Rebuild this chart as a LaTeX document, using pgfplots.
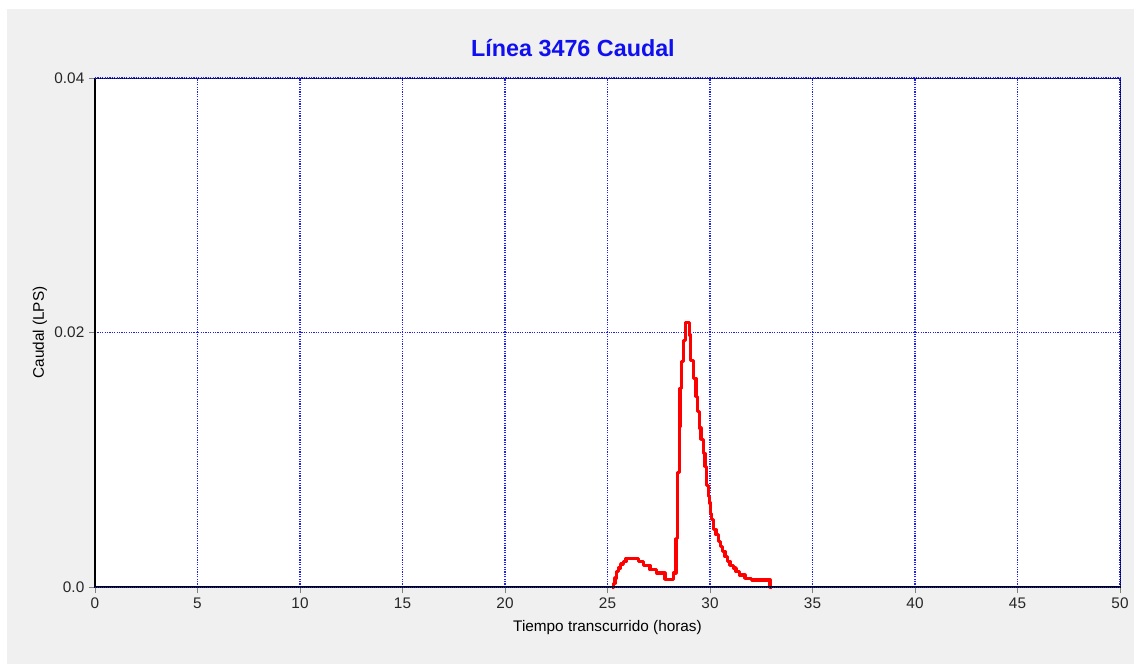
\documentclass[border=0pt]{standalone}
\usepackage{pgfplots}
\pgfplotsset{compat=1.18}
\usepackage{fontspec}
\setmainfont{Liberation Sans}
\definecolor{bggray}{RGB}{240,240,240}
\definecolor{gridblue}{RGB}{30,30,255}
\definecolor{titleblue}{RGB}{15,15,240}
\begin{document}
\begin{tikzpicture}
\useasboundingbox (0,0) rectangle (850.5pt,498pt);
\fill[white] (0,0) rectangle (850.5pt,498pt);
\fill[bggray] (5.25pt,0) rectangle (850.5pt,491.25pt);
\begin{axis}[
  at={(71.25pt,57.75pt)}, anchor=south west,
  scale only axis, width=768.75pt, height=381.75pt,
  xmin=0, xmax=50, ymin=0, ymax=0.04,
  xtick={0,5,...,50},
  ytick={0,0.02,0.04},
  yticklabels={0.0,0.02,0.04},
  scaled y ticks=false,
  axis background/.style={fill=white},
  axis line style={draw=black, line width=0.75pt},
  grid=major,
  major grid style={draw=gridblue, line width=0.9pt, dash pattern=on 0.9pt off 0.9pt},
  tick align=outside,
  major tick length=4.5pt,
  tick style={draw=gray, line width=0.75pt},
  xtick pos=bottom, ytick pos=left,
  ticklabel style={font=\fontsize{11.5}{13}\selectfont, text=black!85},
  /pgf/number format/assume math mode=true,
  xlabel={Tiempo transcurrido (horas)},
  ylabel={Caudal (LPS)},
  xlabel style={at={(axis description cs:0.5,-0.0806)}, anchor=center, font=\fontsize{11.5}{13}\selectfont},
  ylabel style={at={(axis description cs:-0.0537,0.5)}, anchor=center, rotate=0, font=\fontsize{11.5}{13}\selectfont},
  title={Línea 3476 Caudal},
  title style={at={(axis description cs:0.4663,1.0432)}, anchor=center, font=\bfseries\fontsize{17.5}{20}\selectfont, text=titleblue},
  clip=false,
]
\addplot[const plot, red, line width=2.4pt, line join=round] coordinates {
(25.20,0)
(25.28,0.0003)
(25.37,0.0007)
(25.45,0.0012)
(25.53,0.0015)
(25.64,0.0018)
(25.77,0.0020)
(25.90,0.00225)
(26.50,0.0020)
(26.75,0.0017)
(27.07,0.00135)
(27.40,0.0011)
(27.80,0.0006)
(28.21,0.0011)
(28.34,0.0038)
(28.41,0.0090)
(28.50,0.0126)
(28.54,0.0156)
(28.62,0.0177)
(28.70,0.0194)
(28.81,0.0208)
(28.99,0.0198)
(29.06,0.0178)
(29.19,0.0164)
(29.32,0.0150)
(29.40,0.0138)
(29.48,0.0125)
(29.56,0.0116)
(29.67,0.0105)
(29.76,0.0095)
(29.84,0.0080)
(29.92,0.0071)
(29.97,0.0066)
(30.03,0.0058)
(30.08,0.0053)
(30.16,0.0045)
(30.29,0.0041)
(30.41,0.0036)
(30.52,0.0032)
(30.62,0.0028)
(30.73,0.0024)
(30.85,0.0020)
(30.98,0.0017)
(31.14,0.0015)
(31.27,0.0012)
(31.43,0.00094)
(31.71,0.00068)
(32.03,0.00055)
(32.93,0)
(33.0,0)
};
\draw[black, line width=1.8pt] (axis cs:0,0.04) -- (axis cs:0,0) -- (axis cs:50,0);
\draw[gridblue, line width=0.75pt, dash pattern=on 0.75pt off 0.75pt] (axis cs:0,0) -- (axis cs:50,0);
\draw[gridblue, line width=0.75pt, dash pattern=on 0.75pt off 0.75pt] (axis cs:0,0.04) -- (axis cs:50,0.04) -- (axis cs:50,0);
\end{axis}
\end{tikzpicture}
\end{document}
